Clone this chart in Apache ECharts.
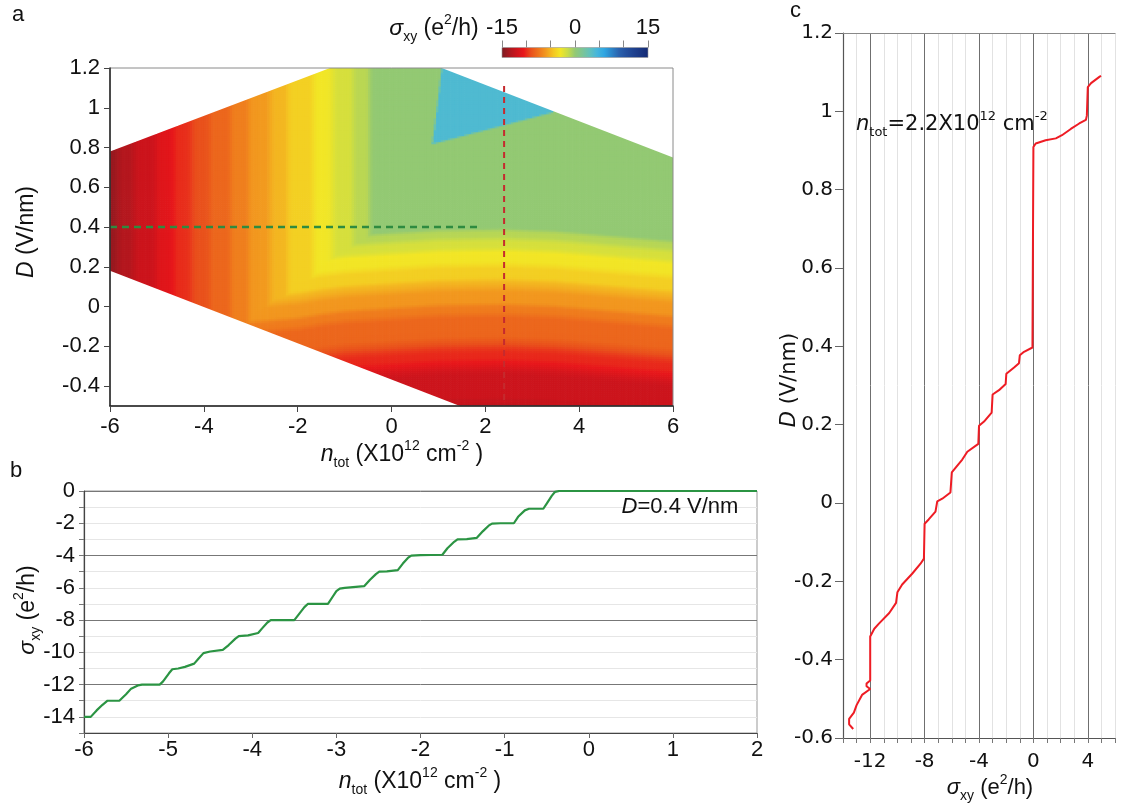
<!DOCTYPE html>
<html><head><meta charset="utf-8">
<script src="https://cdn.jsdelivr.net/npm/echarts@6/dist/echarts.min.js"></script>
<style>html,body{margin:0;padding:0;background:#fff}#c{width:1121px;height:810px}</style>
</head><body><div id="c"></div>
<script>
// ================= DATA =================
// Panel a: map axes
const mapNTicks = [-6,-4,-2,0,2,4,6];
const mapDTicks = [-0.4,-0.2,0,0.2,0.4,0.6,0.8,1,1.2];
const mapBoundary = [[-6,0.18],[-6,0.78],[-1.31,1.2],[1.07,1.2],[6,0.75],[6,-0.5],[1.46,-0.5]];
// positive-sigma pocket (blue region) and its value
const pocketBoundary = [[1.07,1.2],[0.97,1.0],[0.87,0.82],[3.45,0.98],[3.45,1.2]];
const pocketSigma = 4;
const bandShiftN = [-6,-4,-3,-2,-1.5,-1,0,1,2.4,3.5,4.5,5.5,6];
const bandShiftD = [0.12,0.10,0.09,0.07,0.05,0.035,0.02,0.005,0,0.01,0.03,0.05,0.06];
// line cuts drawn on the map
const cutD = 0.4, cutDRange = [-6, 1.84];
const cutN = 2.4, cutNRange = [-0.5, 1.11];
// colour scale
const sigmaRange = [-15, 15];
const sigmaColors = ['#7a1c22','#a8181f','#cc141c','#e8171b','#e9501c','#ee731d','#f2981f','#f4c422','#f2e626','#c8dc48','#93c973','#7cc596','#62c1ba','#45b6dc','#2fa6e2','#2b84c8','#2a62ae','#24509e','#1f4290','#1a3682','#142a74'];

// Panel b: sigma_xy vs n_tot at D = 0.4 V/nm
const bN = [-6,-5.92,-5.85,-5.78,-5.72,-5.58,-5.50,-5.44,-5.36,-5.31,-5.10,-5.06,-4.99,-4.95,-4.88,-4.80,-4.69,-4.64,-4.58,-4.50,-4.35,-4.28,-4.20,-4.16,-4.05,-3.93,-3.88,-3.82,-3.78,-3.50,-3.44,-3.38,-3.34,-3.10,-3.05,-3.00,-2.96,-2.90,-2.67,-2.60,-2.53,-2.49,-2.40,-2.27,-2.21,-2.15,-2.11,-2.00,-1.74,-1.68,-1.60,-1.56,-1.45,-1.33,-1.26,-1.19,-1.15,-1.05,-0.89,-0.84,-0.76,-0.71,-0.54,-0.49,-0.44,-0.40,-0.35,0,1,2];
const bSigma = [-14,-14,-13.6,-13.25,-13.0,-13.0,-12.6,-12.25,-12.05,-12,-12,-11.8,-11.3,-11.05,-11.0,-10.9,-10.7,-10.4,-10.05,-9.95,-9.85,-9.55,-9.15,-9.0,-8.95,-8.8,-8.5,-8.15,-8.0,-8.0,-7.6,-7.2,-7.0,-7.0,-6.6,-6.2,-6.05,-6.0,-5.9,-5.5,-5.15,-5.0,-4.98,-4.9,-4.5,-4.15,-4.0,-3.97,-3.95,-3.55,-3.15,-3.0,-2.98,-2.9,-2.5,-2.15,-2.02,-2.0,-2.0,-1.6,-1.2,-1.1,-1.1,-0.7,-0.3,-0.05,0,0,0,0];

// Panel c: D vs sigma_xy at n_tot = 2.2e12
const cSigma = [-13.25,-13.55,-13.55,-13.2,-13.0,-12.6,-12.0,-12.27,-12.27,-12.0,-12.0,-11.7,-11.36,-10.6,-10.1,-10.0,-9.65,-8.9,-8.3,-8.05,-8.0,-7.7,-7.2,-7.07,-6.7,-6.1,-6.0,-5.7,-5.23,-4.86,-4.05,-4.0,-3.63,-3.07,-3.0,-2.53,-2.04,-1.99,-1.42,-1.06,-1.0,-0.69,-0.07,0,0,0.17,0.9,1.65,2.1,2.75,3.37,3.86,3.93,4.0,4.24,4.85,4.97];
const cD     = [-0.577,-0.565,-0.551,-0.535,-0.516,-0.49,-0.475,-0.468,-0.461,-0.453,-0.341,-0.321,-0.308,-0.281,-0.255,-0.228,-0.208,-0.18,-0.155,-0.142,-0.053,-0.042,-0.022,0.004,0.011,0.027,0.078,0.091,0.111,0.131,0.151,0.197,0.208,0.231,0.277,0.288,0.304,0.330,0.346,0.357,0.377,0.386,0.397,0.40,0.909,0.918,0.926,0.931,0.939,0.955,0.969,0.978,0.989,1.062,1.072,1.088,1.091];

const bTicksLabelEvery = 2;
const cLabelEvery = 4;

// ================= BUILD =================
function interp(xs, ys, x) {
  if (x <= xs[0]) return ys[0];
  const last = xs.length - 1;
  if (x >= xs[last]) return ys[last];
  for (let i = 1; i <= last; i++) {
    if (x <= xs[i]) {
      const w = xs[i] - xs[i-1];
      const t = w > 0 ? (x - xs[i-1]) / w : 1;
      return ys[i-1] + t * (ys[i] - ys[i-1]);
    }
  }
  return ys[last];
}
function inPoly(poly, x, y) {
  let c = false;
  for (let i = 0, j = poly.length - 1; i < poly.length; j = i++) {
    const xi = poly[i][0], yi = poly[i][1], xj = poly[j][0], yj = poly[j][1];
    if (((yi > y) !== (yj > y)) && (x < (xj - xi) * (y - yi) / (yj - yi) + xi)) c = !c;
  }
  return c;
}
const gPairs = cD.map((d, i) => [d, cSigma[i]]).sort((a, b) => a[0] - b[0]);
const gDs = gPairs.map(p => p[0]), gSs = gPairs.map(p => p[1]);
const fN = n => interp(bN, bSigma, n);
const gD = d => interp(gDs, gSs, d);
const shift = n => interp(bandShiftN, bandShiftD, n);

const nMin = mapNTicks[0], nMax = mapNTicks[mapNTicks.length - 1];
const dMin = -0.5, dMax = 1.2;
const dn = 0.05, dd = 0.01;
const NC = Math.round((nMax - nMin) / dn), DC = Math.round((dMax - dMin) / dd);
const mapCells = [];
for (let i = 0; i < NC; i++) {
  const n = nMin + (i + 0.5) * dn;
  for (let j = 0; j < DC; j++) {
    const d = dMin + (j + 0.5) * dd;
    const ins = inPoly(mapBoundary, n, d) || inPoly(mapBoundary, n - dn/2, d - dd/2) || inPoly(mapBoundary, n + dn/2, d - dd/2) || inPoly(mapBoundary, n - dn/2, d + dd/2) || inPoly(mapBoundary, n + dn/2, d + dd/2);
    if (!ins) continue;
    const base = Math.min(fN(n), gD(d + shift(n)));
    // pocket coverage of this cell (3x3 sub-samples) for a smooth edge
    let cov = 0;
    for (let a = -1; a <= 1; a++) for (let b = -1; b <= 1; b++) if (inPoly(pocketBoundary, n + a * dn / 3, d + b * dd / 3)) cov++;
    cov /= 9;
    mapCells.push([n, d, base * (1 - cov) + pocketSigma * cov]);
  }
}
const B = mapBoundary;
const masks = [
  [B[1], [nMin, dMax], B[2]],
  [B[3], [nMax, dMax], B[4]],
  [B[0], B[6], [nMin, dMin]]
];

const FONT = "'Liberation Sans', Arial, sans-serif";
const WFONT = "'DejaVu Sans', 'Liberation Sans', sans-serif";
function rt(x, y, text, size, rot, align, fam) {
  const f = fam || FONT;
  const s2 = Math.round(size * 0.62);
  return {
    type: 'text', x: x, y: y, rotation: rot || 0, z: 100,
    style: {
      text: text, align: align || 'center', verticalAlign: 'middle',
      fontFamily: f, fontSize: size, fill: '#111',
      rich: {
        n: {fontFamily: f, fontSize: size, lineHeight: size + 8, fill: '#111'},
        i: {fontFamily: f, fontSize: size, fontStyle: 'italic', lineHeight: size + 8, fill: '#111'},
        sub: {fontFamily: f, fontSize: s2, lineHeight: s2 + 1, verticalAlign: 'bottom', fill: '#111'},
        sup: {fontFamily: f, fontSize: s2, lineHeight: s2 + 1, verticalAlign: 'top', fill: '#111'}
      }
    }
  };
}
const SIG = '{i|σ}{sub|xy}{n| (e}{sup|2}{n|/h)}';
const NTOT = '{i|n}{sub|tot}{n| (X10}{sup|12}{n| cm}{sup|-2}{n| )}';

const chart = echarts.init(document.getElementById('c'), null, {renderer: 'canvas', width: 1121, height: 810});
const option = {
  animation: false,
  backgroundColor: '#fff',
  textStyle: {fontFamily: FONT},
  grid: [
    {left: 110, top: 68, width: 563, height: 338, show: true, borderColor: '#8a8a8a', borderWidth: 1, z: 10},
    {left: 84, top: 491, width: 673, height: 242, show: true, borderColor: '#999', borderWidth: 1},
    {left: 843, top: 33, width: 272, height: 705},
    {left: 502, top: 47.5, width: 146, height: 10}
  ],
  visualMap: [{type: 'continuous', show: false, min: sigmaRange[0], max: sigmaRange[1], dimension: 2, seriesIndex: 0, inRange: {color: sigmaColors}}],
  xAxis: [
    {gridIndex: 0, type: 'value', min: nMin, max: nMax, interval: 2, z: 20,
      axisLine: {onZero: false, lineStyle: {color: '#222', width: 1.5}},
      axisTick: {show: true, length: 6, lineStyle: {color: '#444'}},
      axisLabel: {fontSize: 22, color: '#111', margin: 10, fontFamily: FONT},
      splitLine: {show: false}},
    {gridIndex: 1, type: 'value', min: -6, max: 2, interval: 1,
      axisLine: {onZero: false, lineStyle: {color: '#444', width: 1.2}},
      axisTick: {show: true, length: 5, lineStyle: {color: '#666'}},
      axisLabel: {fontSize: 22, color: '#111', margin: 6, fontFamily: FONT},
      splitLine: {show: false}},
    {gridIndex: 2, type: 'value', min: -14, max: 6, interval: 1,
      axisLine: {onZero: false, lineStyle: {color: '#555', width: 1.2}},
      axisTick: {show: true, length: 5, lineStyle: {color: '#777'}},
      axisLabel: {fontSize: 20, color: '#111', margin: 14, fontFamily: WFONT,
        formatter: v => (Math.round(v) % cLabelEvery === 0 ? String(Math.round(v)) : '')},
      splitLine: {show: true, lineStyle: {color: ['#e2e2e2','#e2e2e2','#6f6f6f','#e2e2e2'], width: 1}}},
    {gridIndex: 3, type: 'value', min: sigmaRange[0], max: sigmaRange[1], interval: 5, position: 'top',
      axisLine: {show: false, onZero: false},
      axisTick: {show: true, length: 7, lineStyle: {color: '#888'}},
      axisLabel: {fontSize: 22, color: '#111', margin: 9, fontFamily: FONT,
        formatter: v => (v % 15 === 0 ? String(v) : '')},
      splitLine: {show: false}},
    {gridIndex: 2, type: 'value', min: -14, max: 6, position: 'top',
      axisLine: {show: true, onZero: false, lineStyle: {color: '#888', width: 1}},
      axisTick: {show: false}, axisLabel: {show: false}, splitLine: {show: false}}
  ],
  yAxis: [
    {gridIndex: 0, type: 'value', min: dMin, max: dMax, z: 20,
      axisLine: {show: true, onZero: false, lineStyle: {color: '#222', width: 1.5}},
      axisTick: {show: true, length: 6, customValues: mapDTicks, lineStyle: {color: '#444'}},
      axisLabel: {fontSize: 22, color: '#111', margin: 10, fontFamily: FONT, customValues: mapDTicks},
      splitLine: {show: false}},
    {gridIndex: 1, type: 'value', min: -15, max: 0, interval: 1,
      axisLine: {show: true, onZero: false, lineStyle: {color: '#444', width: 1.2}},
      axisTick: {show: true, length: 5, lineStyle: {color: '#777'}},
      axisLabel: {fontSize: 22, color: '#111', margin: 9, fontFamily: FONT,
        formatter: v => (Math.round(v) % bTicksLabelEvery === 0 ? String(Math.round(v)) : '')},
      splitLine: {show: true, lineStyle: {color: ['#e6e6e6','#e6e6e6','#e6e6e6','#777'], width: 1}}},
    {gridIndex: 2, type: 'value', min: -0.6, max: 1.2, interval: 0.2,
      axisLine: {show: true, onZero: false, lineStyle: {color: '#555', width: 1.2}},
      axisTick: {show: true, length: 8, lineStyle: {color: '#666'}},
      axisLabel: {fontSize: 20, color: '#111', margin: 10, fontFamily: WFONT},
      splitLine: {show: false}},
    {gridIndex: 3, type: 'value', min: 0, max: 1, show: false}
  ],
  series: [
    {type: 'custom', xAxisIndex: 0, yAxisIndex: 0, data: mapCells, progressive: 0, clip: true, z: 2,
      renderItem: function (params, api) {
        const n = api.value(0), d = api.value(1);
        const p0 = api.coord([n - dn/2, d + dd/2]);
        const p1 = api.coord([n + dn/2, d - dd/2]);
        return {type: 'rect', shape: {x: p0[0], y: p0[1], width: p1[0] - p0[0] + 0.7, height: p1[1] - p0[1] + 0.7},
          style: {fill: api.visual('color')}};
      }},
    {type: 'custom', xAxisIndex: 0, yAxisIndex: 0, data: masks.map((m, k) => [k]), clip: true, z: 3, silent: true,
      renderItem: function (params, api) {
        const poly = masks[params.dataIndex].map(p => api.coord(p));
        return {type: 'polygon', shape: {points: poly}, style: {fill: '#fff'}};
      }},
    {type: 'line', xAxisIndex: 0, yAxisIndex: 0, z: 4, symbol: 'none',
      data: [[cutDRange[0], cutD], [cutDRange[1], cutD]],
      lineStyle: {color: '#2e8b40', width: 2.5, type: [7, 5]}},
    {type: 'line', xAxisIndex: 0, yAxisIndex: 0, z: 4, symbol: 'none',
      data: [[cutN, cutNRange[1]], [cutN, cutNRange[0]]],
      lineStyle: {color: '#c52a2e', width: 2, type: [6, 5]}},
    {type: 'line', xAxisIndex: 1, yAxisIndex: 1, symbol: 'none', z: 5,
      data: bN.map((n, i) => [n, bSigma[i]]),
      lineStyle: {color: '#2b9443', width: 2.2}},
    {type: 'line', xAxisIndex: 2, yAxisIndex: 2, symbol: 'none', z: 5,
      data: cSigma.map((s, i) => [s, cD[i]]),
      lineStyle: {color: '#ee1c24', width: 2}},
    {type: 'custom', xAxisIndex: 3, yAxisIndex: 3, data: [[sigmaRange[0], sigmaRange[1]]], z: 3,
      renderItem: function (params, api) {
        const p0 = api.coord([api.value(0), 1]);
        const p1 = api.coord([api.value(1), 0]);
        return {type: 'rect', shape: {x: p0[0], y: p0[1], width: p1[0] - p0[0], height: p1[1] - p0[1]},
          style: {stroke: '#999', lineWidth: 0.6,
            fill: new echarts.graphic.LinearGradient(0, 0, 1, 0, sigmaColors.map((c, i) => ({offset: i / (sigmaColors.length - 1), color: c})))}};
      }}
  ],
  graphic: [
    {type: 'text', x: 12, y: 4, z: 100, style: {text: 'a', fontFamily: FONT, fontSize: 22, fill: '#111'}},
    {type: 'text', x: 10, y: 460, z: 100, style: {text: 'b', fontFamily: FONT, fontSize: 22, fill: '#111'}},
    {type: 'text', x: 790, y: 0, z: 100, style: {text: 'c', fontFamily: FONT, fontSize: 22, fill: '#111'}},
    rt(434, 29, SIG, 23),
    rt(27, 232, '{i|D}{n| (V/nm)}', 23, Math.PI / 2),
    rt(402, 455, NTOT, 23),
    rt(28, 610, SIG, 23, Math.PI / 2),
    rt(420, 782, NTOT, 23),
    rt(680, 507, '{i|D}{n|=0.4 V/nm}', 22),
    rt(790, 380, '{i|D}{n| (V/nm)}', 21, Math.PI / 2, 'center', WFONT),
    rt(990, 788, SIG, 22),
    rt(856, 125, '{i|n}{sub|tot}{n|=2.2X10}{sup|12}{n| cm}{sup|-2}', 21, 0, 'left', WFONT)
  ]
};
chart.setOption(option);
</script></body></html>
